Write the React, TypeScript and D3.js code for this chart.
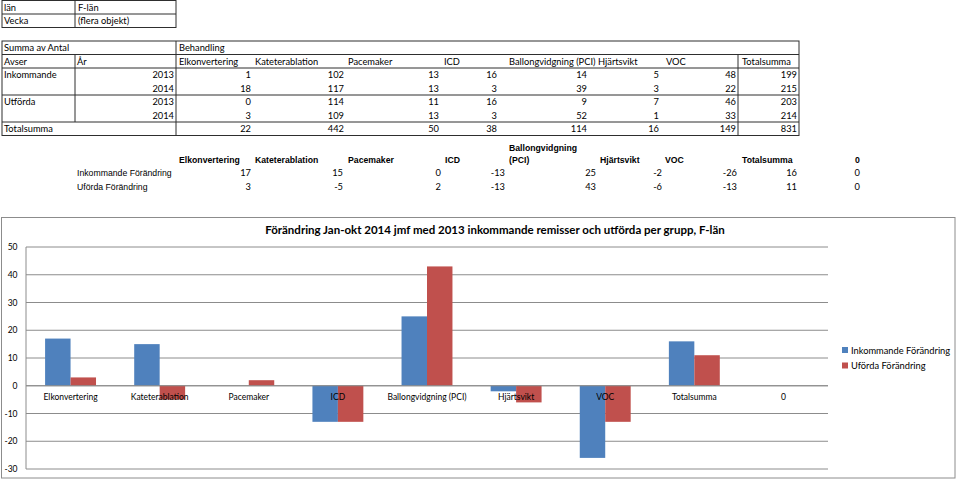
import React from 'react';
import * as d3 from 'd3';

// ---------- data ----------
const lanLabel = ['län', 'F-län'];
const veckaLabel = ['Vecka', '(flera objekt)'];

const pivotHeaders = ['Elkonvertering', 'Kateterablation', 'Pacemaker', 'ICD', 'Ballongvidgning (PCI)', 'Hjärtsvikt', 'VOC', 'Totalsumma'];
const pivotRowLabels = ['Inkommande', '', 'Utförda', ''];
const pivotYears = ['2013', '2014', '2013', '2014'];
const inkommande2013 = [1, 102, 13, 16, 14, 5, 48, 199];
const inkommande2014 = [18, 117, 13, 3, 39, 3, 22, 215];
const utforda2013 = [0, 114, 11, 16, 9, 7, 46, 203];
const utforda2014 = [3, 109, 13, 3, 52, 1, 33, 214];
const totalsumma = [22, 442, 50, 38, 114, 16, 149, 831];

const changeHeaders = ['Elkonvertering', 'Kateterablation', 'Pacemaker', 'ICD', 'Ballongvidgning|(PCI)', 'Hjärtsvikt', 'VOC', 'Totalsumma', '0'];
const categories = ['Elkonvertering', 'Kateterablation', 'Pacemaker', 'ICD', 'Ballongvidgning (PCI)', 'Hjärtsvikt', 'VOC', 'Totalsumma', '0'];
const inkommandeChange = [17, 15, 0, -13, 25, -2, -26, 16, 0];
const utfordaChange = [3, -5, 2, -13, 43, -6, -13, 11, 0];
const seriesNames = ['Inkommande Förändring', 'Uförda Förändring'];
const yTicks = [-30, -20, -10, 0, 10, 20, 30, 40, 50];
const chartTitle = 'Förändring Jan-okt 2014 jmf med 2013 inkommande remisser och utförda per grupp, F-län';

// ---------- layout ----------
const COLORS = ['#4F81BD', '#C0504D'];
const CAL = "Lato, 'Open Sans', sans-serif";
const ARIAL = "'Liberation Sans', Arial, sans-serif";
const pivotHeadX = [179, 255, 348, 444, 509, 598, 666, 742];
const pivotValRight = [251, 344, 439, 497, 587, 659, 736, 797];
const changeHeadX = [179, 255, 348, 445, 509, 600, 665, 742, 855];
const changeValRight = [251, 343, 441, 505, 596, 662, 737, 797, 860];
const ROW_H = 13.5;
const PIV_TOP = 41;
const TFS = 9.3;

export default function App() {
  const W = 960, H = 479;
  const pivotRows = [inkommande2013, inkommande2014, utforda2013, utforda2014];
  const rowY = (i: number) => PIV_TOP + ROW_H * i;

  // chart scales
  const plot = { left: 26, right: 828, top: 247, bottom: 469 };
  const x0 = d3.scaleBand<string>().domain(categories).range([plot.left, plot.right]).paddingInner(0).paddingOuter(0);
  const step = x0.step();
  const barW = step / 3.5;
  const x1 = d3.scaleBand<string>().domain(['a', 'b']).range([0, 2 * barW]);
  const groupOff = (step - 2 * barW) / 2;
  const y = d3.scaleLinear().domain([-30, 50]).range([plot.bottom, plot.top]);
  const series = [inkommandeChange, utfordaChange];
  const lineColor = '#2e2e2e';

  return (
    <svg width={W} height={H} style={{ position: 'absolute', left: 0, top: 0, background: '#fff' }}>
      <rect x={0} y={0} width={W} height={H} fill="#fff" />
      {/* table 1 */}
      <g fontFamily={CAL} fontSize={TFS} fill="#000">
        <rect x={2} y={0.5} width={174} height={27} fill="none" stroke={lineColor} />
        <line x1={2} x2={176} y1={14} y2={14} stroke={lineColor} />
        <line x1={75} x2={75} y1={0.5} y2={27.5} stroke={lineColor} />
        <text x={4} y={10.5}>{lanLabel[0]}</text>
        <text x={78} y={10.5}>{lanLabel[1]}</text>
        <text x={4} y={24}>{veckaLabel[0]}</text>
        <text x={78} y={24}>{veckaLabel[1]}</text>
      </g>
      {/* pivot table */}
      <g fontFamily={CAL} fontSize={TFS} fill="#000">
        <rect x={2} y={PIV_TOP} width={797} height={ROW_H * 7} fill="none" stroke={lineColor} />
        {[1, 2, 4, 6].map(i => (
          <line key={i} x1={2} x2={799} y1={rowY(i)} y2={rowY(i)} stroke={lineColor} />
        ))}
        <line x1={75} x2={75} y1={rowY(1)} y2={rowY(6)} stroke={lineColor} />
        <line x1={176} x2={176} y1={rowY(0)} y2={rowY(7)} stroke={lineColor} />
        <line x1={738} x2={738} y1={rowY(1)} y2={rowY(7)} stroke={lineColor} />
        <text x={4} y={rowY(0) + 10}>Summa av Antal</text>
        <text x={179} y={rowY(0) + 10}>Behandling</text>
        <text x={4} y={rowY(1) + 10}>Avser</text>
        <text x={77} y={rowY(1) + 10}>År</text>
        {pivotHeaders.map((h, i) => (
          <text key={h} x={pivotHeadX[i]} y={rowY(1) + 10}>{h}</text>
        ))}
        {pivotRows.map((row, r) => (
          <g key={r}>
            {pivotRowLabels[r] && <text x={4} y={rowY(2 + r) + 10}>{pivotRowLabels[r]}</text>}
            <text x={174} y={rowY(2 + r) + 10} textAnchor="end">{pivotYears[r]}</text>
            {row.map((v, c) => (
              <text key={c} x={pivotValRight[c]} y={rowY(2 + r) + 10} textAnchor="end">{v}</text>
            ))}
          </g>
        ))}
        <text x={4} y={rowY(6) + 10}>Totalsumma</text>
        {totalsumma.map((v, c) => (
          <text key={c} x={pivotValRight[c]} y={rowY(6) + 10} textAnchor="end">{v}</text>
        ))}
      </g>
      {/* change table */}
      <g fill="#000">
        {changeHeaders.map((h, i) => {
          const parts = h.split('|');
          return (
            <text key={i} x={changeHeadX[i]} y={163} fontFamily={ARIAL} fontSize={8.7} fontWeight="bold">
              {parts.length > 1 ? (
                <>
                  <tspan x={changeHeadX[i]} y={151}>{parts[0]}</tspan>
                  <tspan x={changeHeadX[i]} y={163}>{parts[1]}</tspan>
                </>
              ) : h}
            </text>
          );
        })}
        {series.map((s, r) => (
          <g key={r}>
            <text x={77} y={176 + r * 14} fontFamily={ARIAL} fontSize={8.7}>{seriesNames[r]}</text>
            {s.map((v, c) => (
              <text key={c} x={changeValRight[c]} y={176 + r * 14} fontFamily={CAL} fontSize={9.3} textAnchor="end">{v}</text>
            ))}
          </g>
        ))}
      </g>
      {/* chart */}
      <g>
        <rect x={1.5} y={217.5} width={953.5} height={260.5} fill="#fff" stroke="#8c8c8c" />
        <text x={495} y={234} textAnchor="middle" fontFamily={CAL} fontWeight="bold" fontSize={11.5}>{chartTitle}</text>
        {yTicks.map(t => (
          <g key={t}>
            <line x1={plot.left} x2={plot.right} y1={y(t)} y2={y(t)} stroke="#8c8c8c" />
            <text x={17.5} y={y(t) + 3} textAnchor="end" fontFamily={CAL} fontSize={8.5}>{t}</text>
          </g>
        ))}
        <line x1={plot.left} x2={plot.left} y1={plot.top} y2={plot.bottom} stroke="#8c8c8c" />
        {categories.map((c, i) => (
          <g key={c}>
            {series.map((s, si) => {
              const v = s[i];
              const bx = (x0(c) as number) + groupOff + (x1(si === 0 ? 'a' : 'b') as number);
              return (
                <rect key={si} x={bx} width={x1.bandwidth()} y={Math.min(y(v), y(0))} height={Math.abs(y(v) - y(0))} fill={COLORS[si]} />
              );
            })}
          </g>
        ))}
        <line x1={plot.left} x2={plot.right} y1={y(0)} y2={y(0)} stroke="#8c8c8c" />
        {categories.map(c => (
          <text key={c} x={(x0(c) as number) + step / 2} y={y(0) + 14} textAnchor="middle" fontFamily={CAL} fontSize={8.5}>{c}</text>
        ))}
        {seriesNames.map((n, i) => (
          <g key={n}>
            <rect x={842} y={347 + i * 15.5} width={6} height={6} fill={COLORS[i]} />
            <text x={851} y={353.5 + i * 15.5} fontFamily={CAL} fontSize={9.3}>{n}</text>
          </g>
        ))}
      </g>
    </svg>
  );
}
